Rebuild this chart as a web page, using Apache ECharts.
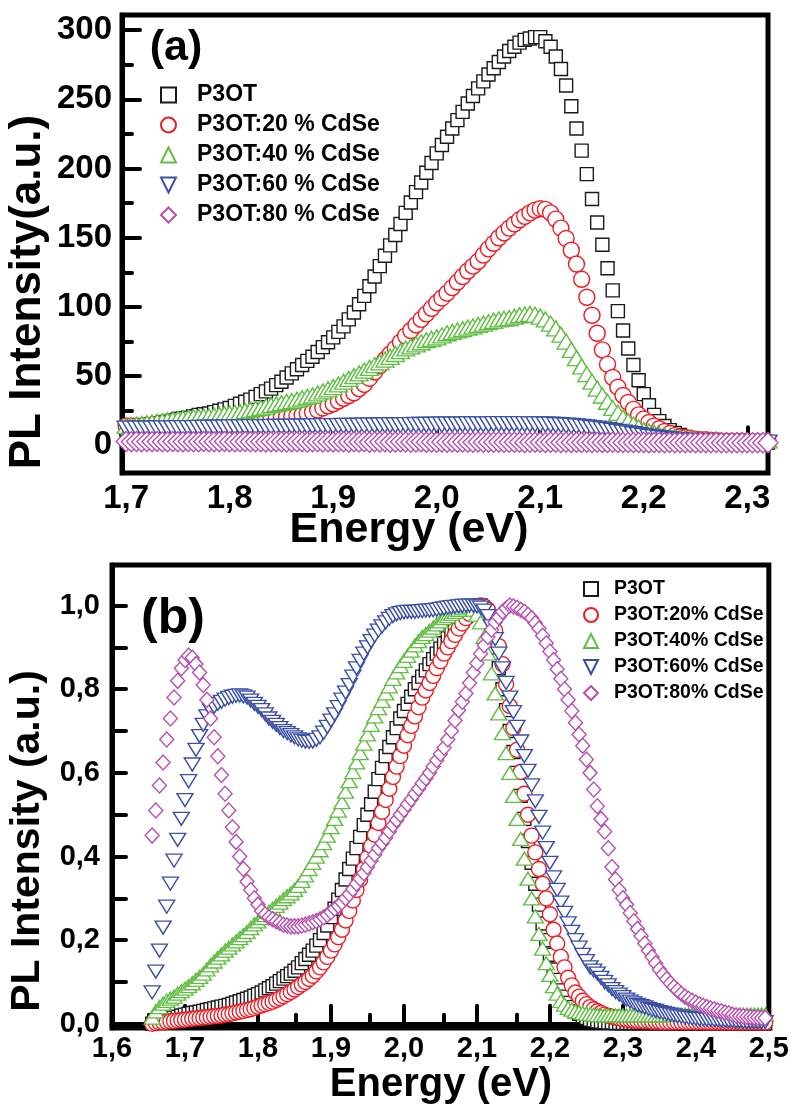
<!DOCTYPE html>
<html>
<head>
<meta charset="utf-8">
<title>PL P3OT:CdSe</title>
<script src="https://cdn.jsdelivr.net/npm/echarts@6/dist/echarts.min.js"></script>
<style>
    html, body { margin: 0; padding: 0; background: #fff; }
    #main { width: 792px; height: 1104px; }
</style>
</head>
<body>
<div id="main"></div>
<script>
// ---- panel (a): PL intensity (a.u.) ----
var energyA = [
    1.7, 1.705, 1.71, 1.715, 1.72, 1.725, 1.73, 1.735, 1.74, 1.745,
    1.75, 1.755, 1.76, 1.765, 1.77, 1.775, 1.78, 1.785, 1.79, 1.795,
    1.8, 1.805, 1.81, 1.815, 1.82, 1.825, 1.83, 1.835, 1.84, 1.845,
    1.85, 1.855, 1.86, 1.865, 1.87, 1.875, 1.88, 1.885, 1.89, 1.895,
    1.9, 1.905, 1.91, 1.915, 1.92, 1.925, 1.93, 1.935, 1.94, 1.945,
    1.95, 1.955, 1.96, 1.965, 1.97, 1.975, 1.98, 1.985, 1.99, 1.995,
    2.0, 2.005, 2.01, 2.015, 2.02, 2.025, 2.03, 2.035, 2.04, 2.045,
    2.05, 2.055, 2.06, 2.065, 2.07, 2.075, 2.08, 2.085, 2.09, 2.095,
    2.1, 2.105, 2.11, 2.115, 2.12, 2.125, 2.13, 2.135, 2.14, 2.145,
    2.15, 2.155, 2.16, 2.165, 2.17, 2.175, 2.18, 2.185, 2.19, 2.195,
    2.2, 2.205, 2.21, 2.215, 2.22, 2.225, 2.23, 2.235, 2.24, 2.245,
    2.25, 2.255, 2.26, 2.265, 2.27, 2.275, 2.28, 2.285, 2.29, 2.295,
    2.3, 2.305, 2.31, 2.315, 2.32
];
var p3otA = [
    12, 12.5, 13, 13.5, 14, 15, 16, 16.5, 17, 18,
    19, 19.5, 20, 21, 22, 22.5, 23, 24, 25, 26,
    27, 28.5, 30, 31.5, 33, 35, 37, 39, 41, 43.5,
    46, 49, 52, 55, 58, 61, 64, 67.5, 71, 74.5,
    78, 82, 86, 91, 96, 102, 108, 115, 122, 129.5,
    137, 144.5, 152, 160, 168, 175.5, 183, 190, 197, 204,
    211, 217, 223, 229, 235, 241, 247, 252.5, 258, 263,
    268, 272.5, 277, 281, 285, 288, 291, 293, 294, 295,
    295, 292, 288, 281, 272, 260, 245, 229, 213, 196,
    178, 161, 145, 128, 112, 97, 83, 70, 58, 47,
    37, 29, 22, 17.5, 14, 11, 9, 7.5, 6, 5,
    4, 3.5, 3, 3, 3, 2.5, 2.5, 2.5, 2.5, 2,
    2, 2, 2, 2, 2
];
var cdse20A = [
    14, 14, 14, 14, 14.5, 14.5, 15, 15, 15.5, 15.5,
    16, 16, 16.5, 16.5, 17, 17, 17.5, 17.5, 18, 18,
    18, 18, 18.5, 18.5, 19, 19, 19.5, 19.5, 20, 20,
    20.5, 20.5, 21, 21.5, 22, 23, 24, 25.5, 27, 28.5,
    30, 32, 34, 36, 38, 41, 44, 48.5, 53, 57.5,
    62, 66, 70, 74.5, 79, 83, 87, 91, 95, 99,
    103, 106.5, 110, 114, 118, 122, 126, 129.5, 133, 137.5,
    142, 146, 150, 153.5, 157, 160, 163, 165.5, 168, 170,
    171, 170.5, 168, 163.5, 157, 149.5, 141, 131, 120, 107,
    94, 81, 69, 58.5, 49, 42, 36, 31, 26, 22,
    19, 16.5, 14, 12, 10, 8.5, 7, 6, 5.5, 5,
    4.5, 4, 4, 3.5, 3.5, 3, 3, 3, 3, 3,
    2.5, 2.5, 2.5, 2.5, 2.5
];
var cdse40A = [
    14, 14.5, 15, 15.5, 16, 16.5, 17, 17.5, 18, 18.5,
    19, 19.5, 20, 20.3, 20.5, 20.8, 21, 21.5, 22, 22.5,
    23, 23.5, 24, 24.8, 25.5, 26.3, 27, 28, 29, 29.8,
    30.5, 31.3, 32, 33, 34, 35, 36, 37.5, 39, 40.5,
    42, 44, 46, 48, 50, 52, 54, 56, 58, 60,
    62, 64, 66, 68, 70, 71.5, 73, 74.5, 76, 77,
    78, 79.5, 81, 82, 83, 84, 85, 86, 87, 88,
    89, 90, 91, 91.5, 92, 93, 94, 94.5, 95, 94.5,
    93, 91, 88, 84.5, 80, 75, 69, 63, 57, 51.5,
    46, 41, 36, 31.5, 27, 23.5, 20, 17.5, 15, 13,
    11, 10, 9, 8, 7, 6.5, 6, 5.5, 5, 4.8,
    4.5, 4.3, 4, 4, 4, 3.8, 3.5, 3.5, 3.5, 3.5,
    3.5, 3.5, 3.5, 3.5, 3.5
];
var cdse60A = [
    12, 12, 12, 12, 12, 12, 12.2, 12.2, 12.3, 12.3,
    12.4, 12.4, 12.5, 12.5, 12.6, 12.6, 12.7, 12.7, 12.8, 12.8,
    12.9, 12.9, 13, 13, 13.1, 13.1, 13.2, 13.2, 13.3, 13.3,
    13.4, 13.4, 13.5, 13.5, 13.6, 13.6, 13.7, 13.7, 13.8, 13.8,
    13.9, 13.9, 14, 14, 14.1, 14.1, 14.2, 14.2, 14.3, 14.3,
    14.4, 14.4, 14.5, 14.5, 14.6, 14.6, 14.7, 14.7, 14.8, 14.8,
    14.9, 14.9, 15, 15, 15, 15, 15.1, 15.1, 15.2, 15.2,
    15.2, 15.3, 15.3, 15.3, 15.3, 15.3, 15.3, 15.3, 15.2, 15.2,
    15.1, 15, 14.9, 14.7, 14.5, 14.3, 14, 13.7, 13.3, 12.9,
    12.5, 12, 11.5, 11, 10.4, 9.8, 9.2, 8.6, 8, 7.4,
    6.8, 6.2, 5.7, 5.2, 4.8, 4.4, 4, 3.7, 3.4, 3.2,
    3, 2.8, 2.6, 2.5, 2.4, 2.3, 2.2, 2.1, 2, 2,
    2, 2, 2, 2, 2
];
var cdse80A = [
    2.8, 2.6, 2.7, 2.5, 2.8, 2.6, 2.7, 2.5, 2.6, 2.7,
    2.6, 2.5, 2.7, 2.6, 2.5, 2.7, 2.6, 2.5, 2.6, 2.7,
    2.5, 2.6, 2.5, 2.7, 2.6, 2.5, 2.6, 2.4, 2.6, 2.5,
    2.6, 2.4, 2.5, 2.6, 2.5, 2.4, 2.6, 2.5, 2.4, 2.5,
    2.4, 2.5, 2.6, 2.4, 2.5, 2.4, 2.5, 2.3, 2.5, 2.4,
    2.5, 2.3, 2.4, 2.5, 2.4, 2.3, 2.4, 2.5, 2.3, 2.4,
    2.3, 2.4, 2.3, 2.4, 2.2, 2.4, 2.3, 2.2, 2.4, 2.3,
    2.2, 2.3, 2.4, 2.2, 2.3, 2.2, 2.3, 2.1, 2.3, 2.2,
    2.3, 2.1, 2.2, 2.3, 2.1, 2.2, 2.1, 2.2, 2.0, 2.2,
    2.1, 2.2, 2.0, 2.1, 2.2, 2.0, 2.1, 2.0, 2.1, 2.0,
    2.1, 1.9, 2.0, 2.1, 1.9, 2.0, 1.9, 2.0, 1.9, 2.0,
    1.9, 2.0, 1.8, 1.9, 2.0, 1.8, 1.9, 1.8, 1.9, 1.8,
    1.9, 1.8, 1.9, 1.8, 1.8
];

// ---- panel (b): normalized PL intensity ----
var energyB = [
    1.655, 1.66, 1.665, 1.67, 1.675, 1.68, 1.685, 1.69, 1.695, 1.7,
    1.705, 1.71, 1.715, 1.72, 1.725, 1.73, 1.735, 1.74, 1.745, 1.75,
    1.755, 1.76, 1.765, 1.77, 1.775, 1.78, 1.785, 1.79, 1.795, 1.8,
    1.805, 1.81, 1.815, 1.82, 1.825, 1.83, 1.835, 1.84, 1.845, 1.85,
    1.855, 1.86, 1.865, 1.87, 1.875, 1.88, 1.885, 1.89, 1.895, 1.9,
    1.905, 1.91, 1.915, 1.92, 1.925, 1.93, 1.935, 1.94, 1.945, 1.95,
    1.955, 1.96, 1.965, 1.97, 1.975, 1.98, 1.985, 1.99, 1.995, 2.0,
    2.005, 2.01, 2.015, 2.02, 2.025, 2.03, 2.035, 2.04, 2.045, 2.05,
    2.055, 2.06, 2.065, 2.07, 2.075, 2.08, 2.085, 2.09, 2.095, 2.1,
    2.105, 2.11, 2.115, 2.12, 2.125, 2.13, 2.135, 2.14, 2.145, 2.15,
    2.155, 2.16, 2.165, 2.17, 2.175, 2.18, 2.185, 2.19, 2.195, 2.2,
    2.205, 2.21, 2.215, 2.22, 2.225, 2.23, 2.235, 2.24, 2.245, 2.25,
    2.255, 2.26, 2.265, 2.27, 2.275, 2.28, 2.285, 2.29, 2.295, 2.3,
    2.305, 2.31, 2.315, 2.32, 2.325, 2.33, 2.335, 2.34, 2.345, 2.35,
    2.355, 2.36, 2.365, 2.37, 2.375, 2.38, 2.385, 2.39, 2.395, 2.4,
    2.405, 2.41, 2.415, 2.42, 2.425, 2.43, 2.435, 2.44, 2.445, 2.45,
    2.455, 2.46, 2.465, 2.47, 2.475, 2.48, 2.485, 2.49, 2.495
];
var p3otB = [
    0, .003, .005, .008, .01, .012, .015, .017, .02, .022,
    .024, .026, .027, .029, .031, .033, .035, .037, .039, .041,
    .043, .045, .048, .051, .054, .057, .06, .063, .067, .071,
    .075, .08, .085, .09, .096, .102, .108, .114, .12, .127,
    .135, .145, .155, .165, .175, .187, .2, .217, .235, .255,
    .275, .297, .32, .345, .37, .395, .42, .447, .475, .5,
    .525, .555, .585, .612, .64, .662, .685, .707, .73, .748,
    .765, .782, .8, .815, .83, .845, .86, .872, .885, .897,
    .91, .922, .935, .945, .955, .965, .975, .982, .99, .995,
    1, .99, .97, .94, .9, .85, .8, .75, .7, .65,
    .6, .545, .49, .437, .385, .335, .285, .24, .2, .165,
    .13, .105, .08, .065, .05, .04, .03, .024, .018, .014,
    .01, .008, .006, .005, .004, .003, .003, .002, .002, .002,
    .002, .002, .002, .002, .002, .002, .002, .002, .002, .002,
    .002, .002, .002, .001, .001, .001, .001, .001, .001, .001,
    .001, .001, .001, .001, .001, .001, .001, .001, .001, .001,
    .001, .001, .001, .001, .001, .001, .001, .001, .001
];
var cdse20B = [
    0, .002, .003, .004, .005, .006, .007, .008, .009, .01,
    .011, .012, .013, .014, .015, .016, .017, .018, .019, .02,
    .022, .023, .025, .027, .029, .031, .033, .035, .038, .041,
    .044, .047, .05, .053, .057, .061, .066, .071, .076, .082,
    .088, .094, .1, .107, .115, .125, .135, .147, .16, .175,
    .19, .207, .225, .247, .27, .295, .32, .345, .37, .397,
    .425, .452, .48, .507, .535, .562, .59, .615, .64, .665,
    .69, .712, .735, .757, .78, .797, .815, .832, .85, .867,
    .885, .9, .915, .93, .945, .957, .97, .98, .99, .996,
    1, .998, .99, .968, .94, .903, .86, .812, .76, .707,
    .655, .602, .55, .5, .45, .41, .37, .335, .3, .262,
    .225, .192, .16, .135, .11, .092, .075, .065, .055, .047,
    .04, .035, .03, .026, .022, .019, .017, .015, .013, .011,
    .01, .009, .008, .007, .007, .006, .006, .005, .005, .005,
    .004, .004, .004, .004, .004, .004, .004, .004, .004, .004,
    .004, .004, .003, .003, .003, .003, .003, .003, .003, .003,
    .003, .003, .003, .003, .003, .003, .003, .003, .003
];
var cdse40B = [
    .015, .03, .04, .048, .055, .06, .065, .072, .078, .084,
    .09, .097, .105, .112, .12, .13, .14, .149, .158, .166,
    .175, .182, .19, .197, .205, .212, .22, .229, .238, .245,
    .253, .26, .268, .275, .282, .29, .298, .305, .312, .32,
    .33, .342, .355, .37, .385, .4, .415, .432, .45, .47,
    .49, .51, .53, .555, .58, .602, .625, .647, .67, .692,
    .715, .735, .755, .772, .79, .807, .825, .84, .855, .868,
    .88, .892, .905, .915, .925, .932, .94, .947, .955, .962,
    .97, .975, .98, .985, .99, .995, 1, .998, .99, .978,
    .96, .925, .885, .838, .79, .742, .695, .647, .6, .545,
    .49, .442, .395, .347, .3, .257, .215, .18, .145, .117,
    .09, .072, .055, .046, .038, .034, .03, .028, .026, .024,
    .023, .022, .021, .02, .02, .02, .02, .02, .02, .02,
    .02, .02, .02, .02, .02, .02, .02, .02, .02, .02,
    .021, .021, .022, .022, .022, .022, .022, .022, .022, .022,
    .022, .022, .022, .022, .022, .022, .022, .022, .022, .022,
    .022, .022, .022, .022, .022, .022, .022, .022, .022
];
var cdse60B = [
    .075, .125, .175, .23, .28, .335, .39, .44, .49, .535,
    .58, .62, .655, .688, .715, .735, .75, .758, .765, .77,
    .775, .779, .782, .784, .785, .783, .78, .773, .765, .758,
    .75, .74, .73, .722, .715, .707, .7, .695, .69, .685,
    .68, .677, .675, .674, .675, .679, .685, .696, .71, .725,
    .74, .757, .775, .792, .81, .83, .85, .868, .885, .9,
    .915, .928, .94, .95, .96, .968, .975, .979, .982, .984,
    .985, .985, .985, .986, .987, .988, .988, .989, .99, .992,
    .993, .995, .996, .997, .998, .999, 1, 1, 1, .998,
    .995, .988, .975, .95, .92, .885, .85, .815, .78, .745,
    .71, .675, .64, .605, .57, .532, .495, .457, .42, .385,
    .35, .32, .29, .265, .24, .22, .2, .182, .165, .15,
    .135, .127, .12, .11, .1, .092, .083, .076, .07, .064,
    .058, .053, .049, .045, .042, .039, .036, .033, .031, .028,
    .026, .024, .022, .02, .018, .017, .015, .014, .013, .012,
    .011, .011, .01, .01, .009, .009, .008, .008, .007, .007,
    .006, .006, .005, .005, .005, .005, .004, .004, .004
];
var cdse80B = [
    .45, .51, .57, .625, .68, .73, .78, .82, .85, .87,
    .88, .875, .86, .84, .81, .775, .73, .685, .64, .595,
    .55, .51, .47, .435, .4, .37, .34, .32, .3, .285,
    .27, .262, .255, .25, .245, .241, .237, .235, .233, .233,
    .233, .235, .237, .24, .243, .246, .25, .255, .26, .267,
    .275, .282, .29, .3, .31, .322, .335, .347, .36, .375,
    .39, .405, .42, .432, .445, .46, .475, .487, .5, .512,
    .525, .537, .55, .562, .575, .587, .6, .615, .63, .645,
    .66, .68, .7, .725, .75, .77, .79, .815, .84, .862,
    .885, .905, .925, .942, .96, .972, .985, .993, 1, .998,
    .995, .99, .985, .978, .97, .958, .945, .928, .91, .89,
    .87, .848, .825, .8, .775, .748, .72, .692, .665, .632,
    .6, .56, .52, .49, .46, .42, .375, .345, .32, .3,
    .285, .265, .245, .227, .21, .192, .175, .16, .145, .13,
    .118, .107, .097, .088, .08, .072, .065, .06, .055, .051,
    .047, .043, .04, .037, .035, .032, .03, .027, .025, .022,
    .02, .019, .018, .017, .016, .015, .015, .014, .014
];

var namesA = ['P3OT', 'P3OT:20 % CdSe', 'P3OT:40 % CdSe', 'P3OT:60 % CdSe', 'P3OT:80 % CdSe'];
var namesB = ['P3OT', 'P3OT:20% CdSe', 'P3OT:40% CdSe', 'P3OT:60% CdSe', 'P3OT:80% CdSe'];

// tick positions
var xTicksA = [1.7, 1.8, 1.9, 2.0, 2.1, 2.2, 2.3];
var xMinorA = [1.75, 1.85, 1.95, 2.05, 2.15, 2.25];
var yTicksA = [0, 50, 100, 150, 200, 250, 300];
var yMinorA = [25, 75, 125, 175, 225, 275];
var xTicksB = [1.6, 1.7, 1.8, 1.9, 2.0, 2.1, 2.2, 2.3, 2.4, 2.5];
var xMinorB = [1.65, 1.75, 1.85, 1.95, 2.05, 2.15, 2.25, 2.35, 2.45];
var yLabelsB = [0, 0.2, 0.4, 0.6, 0.8, 1.0];
var yTicksB = [0, 0.1, 0.2, 0.3, 0.4, 0.5, 0.6, 0.7, 0.8, 0.9, 1.0];

var FONT = '"Liberation Sans", Arial, Helvetica, sans-serif';
var colors = ['#1a1a1a', '#ec1c24', '#62bd45', '#3b50a5', '#b550ae'];
// 4th one is a downward triangle
var symbols = ['rect', 'circle', 'triangle', 'path://M0,0L2,0L1,2Z', 'diamond'];
var sizesA = [13, 16, [18, 15], [18, 15], 20];
var sizesB = [13, 15, [16, 13], [16, 13], [14, 15]];

function comma(v) {
    return v.toFixed(1).replace('.', ',');
}

function pairs(xs, ys) {
    return xs.map(function (x, i) {
        return [x, ys[i]];
    });
}

function scatter(name, xs, ys, k, sizes, axis) {
    return {
        name: name,
        type: 'scatter',
        xAxisIndex: axis,
        yAxisIndex: axis,
        data: pairs(xs, ys),
        symbol: symbols[k],
        symbolSize: sizes[k],
        itemStyle: {color: '#fff', borderColor: colors[k], borderWidth: 1.4, opacity: 1},
        emphasis: {disabled: true},
        silent: true
    };
}

function axisMain(grid, min, max, ticks, labels, tickLen, fmt, fontSize, margin) {
    return {
        type: 'value', gridIndex: grid, min: min, max: max,
        axisLine: {show: true, lineStyle: {color: '#000', width: 5}},
        axisTick: {show: true, inside: true, length: tickLen, customValues: ticks,
            lineStyle: {color: '#000', width: 4, cap: 'round'}},
        axisLabel: {show: true, customValues: labels, formatter: fmt, margin: margin,
            color: '#000', fontSize: fontSize, fontWeight: 'bold', fontFamily: FONT},
        splitLine: {show: false}
    };
}

function axisMinor(grid, min, max, ticks, tickLen) {
    return {
        type: 'value', gridIndex: grid, min: min, max: max,
        axisLine: {show: false},
        axisTick: {show: true, inside: true, length: tickLen, customValues: ticks,
            lineStyle: {color: '#000', width: 4, cap: 'round'}},
        axisLabel: {show: false},
        splitLine: {show: false}
    };
}

var gridA = {left: 122, right: 24, top: 15, bottom: 631};
var gridB = {left: 112, right: 17, top: 565, bottom: 76};

var myChart = echarts.init(document.getElementById('main'));

var option = {
    backgroundColor: '#fff',
    animation: false,
    grid: [
        {left: gridA.left, right: gridA.right, top: gridA.top, bottom: gridA.bottom,
            show: true, borderColor: '#000', borderWidth: 5},
        {left: gridA.left, right: gridA.right, top: gridA.top, bottom: gridA.bottom},
        {left: gridB.left, right: gridB.right, top: gridB.top, bottom: gridB.bottom,
            show: true, borderColor: '#000', borderWidth: 5},
        {left: gridB.left, right: gridB.right, top: gridB.top, bottom: gridB.bottom}
    ],
    xAxis: [
        axisMain(0, 1.696, 2.32, xTicksA, xTicksA, 18, comma, 33, 9),
        axisMinor(1, 1.696, 2.32, xMinorA, 10),
        axisMain(2, 1.6, 2.5, xTicksB, xTicksB, 18, comma, 29, 6),
        axisMinor(3, 1.6, 2.5, xMinorB, 9)
    ],
    yAxis: [
        axisMain(0, -20, 311, yTicksA, yTicksA, 18, function (v) { return String(v); }, 33, 10),
        axisMinor(1, -20, 311, yMinorA, 10),
        axisMain(2, -0.01, 1.097, yTicksB, yLabelsB, 14, comma, 29, 12),
        {type: 'value', gridIndex: 3, min: -0.01, max: 1.097, show: false}
    ],
    legend: [
        {
            data: namesA, orient: 'vertical', left: 155, top: 75,
            itemWidth: 15, itemHeight: 15, itemGap: 0, selectedMode: false,
            textStyle: {color: '#000', fontSize: 23, fontWeight: 'bold', fontFamily: FONT,
                lineHeight: 30, padding: [0, 0, 0, 16]}
        },
        {
            data: namesB, orient: 'vertical', left: 578, top: 571,
            itemWidth: 14, itemHeight: 14, itemGap: 0, selectedMode: false,
            textStyle: {color: '#000', fontSize: 19.5, fontWeight: 'bold', fontFamily: FONT,
                lineHeight: 26, padding: [0, 0, 0, 11]}
        }
    ],
    graphic: [
        {type: 'text', x: 176, y: 48, silent: true,
            style: {text: '(a)', fill: '#000', font: 'bold 43px ' + FONT,
                textAlign: 'center', textVerticalAlign: 'middle'}},
        {type: 'text', x: 173, y: 619, silent: true,
            style: {text: '(b)', fill: '#000', font: 'bold 50px ' + FONT,
                textAlign: 'center', textVerticalAlign: 'middle'}},
        {type: 'text', x: 28, y: 292, rotation: Math.PI / 2, silent: true,
            style: {text: 'PL Intensity(a.u.)', fill: '#000', font: 'bold 44px ' + FONT,
                textAlign: 'center', textVerticalAlign: 'middle'}},
        {type: 'text', x: 409, y: 530, silent: true,
            style: {text: 'Energy (eV)', fill: '#000', font: 'bold 43px ' + FONT,
                textAlign: 'center', textVerticalAlign: 'middle'}},
        {type: 'text', x: 28, y: 841, rotation: Math.PI / 2, silent: true,
            style: {text: 'PL Intensity (a.u.)', fill: '#000', font: 'bold 41px ' + FONT,
                textAlign: 'center', textVerticalAlign: 'middle'}},
        {type: 'text', x: 441, y: 1085, silent: true,
            style: {text: 'Energy (eV)', fill: '#000', font: 'bold 40px ' + FONT,
                textAlign: 'center', textVerticalAlign: 'middle'}}
    ],
    series: [
        scatter(namesA[0], energyA, p3otA, 0, sizesA, 0),
        scatter(namesA[1], energyA, cdse20A, 1, sizesA, 0),
        scatter(namesA[2], energyA, cdse40A, 2, sizesA, 0),
        scatter(namesA[3], energyA, cdse60A, 3, sizesA, 0),
        scatter(namesA[4], energyA, cdse80A, 4, sizesA, 0),
        scatter(namesB[0], energyB, p3otB, 0, sizesB, 2),
        scatter(namesB[1], energyB, cdse20B, 1, sizesB, 2),
        scatter(namesB[2], energyB, cdse40B, 2, sizesB, 2),
        scatter(namesB[3], energyB, cdse60B, 3, sizesB, 2),
        scatter(namesB[4], energyB, cdse80B, 4, sizesB, 2)
    ]
};
myChart.setOption(option);
</script>
</body>
</html>
